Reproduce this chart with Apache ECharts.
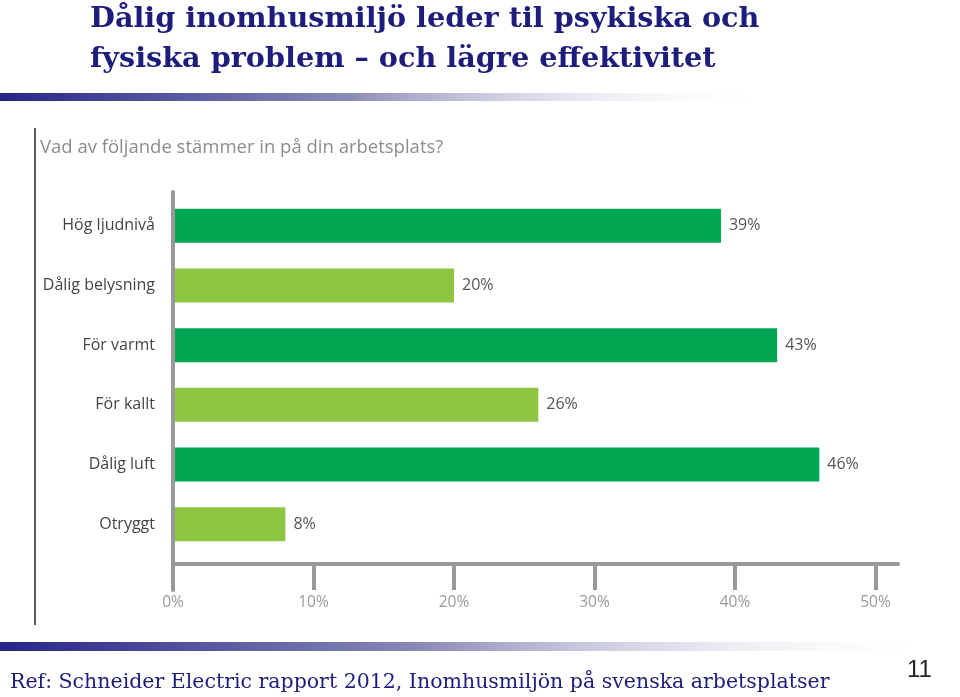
<!DOCTYPE html>
<html>
<head>
<meta charset="utf-8">
<script src="https://cdn.jsdelivr.net/npm/echarts@6/dist/echarts.min.js"></script>
<style>
  html, body { margin: 0; padding: 0; background: #fff; }
  #chart { width: 960px; height: 697px; }
</style>
</head>
<body>
<div id="chart"></div>
<script>
// data
const categories = ['Hög ljudnivå', 'Dålig belysning', 'För varmt', 'För kallt', 'Dålig luft', 'Otryggt']
const values = [39, 20, 43, 26, 46, 8]
const tickValues = [0, 10, 20, 30, 40, 50]

const titleText = 'Dålig inomhusmiljö leder til psykiska och\nfysiska problem – och lägre effektivitet'
const questionText = 'Vad av följande stämmer in på din arbetsplats?'
const refText = 'Ref: Schneider Electric rapport 2012, Inomhusmiljön på svenska arbetsplatser'
const pageNo = '11'

const navy = '#1d1d7b'
const sans = '"Open Sans", Lato, sans-serif'
const serif = '"DejaVu Serif", "Liberation Serif", serif'

const chart = echarts.init(document.getElementById('chart'))

// fading rule under title / above footer
function fadeBar(y, w, h) {
  return {
    type: 'rect',
    left: 0,
    top: y,
    shape: { width: w, height: h },
    style: {
      fill: new echarts.graphic.LinearGradient(0, 0, 1, 0, [
        { offset: 0, color: '#25258a' },
        { offset: 0.45, color: '#8a8ab8' },
        { offset: 1, color: 'rgba(255,255,255,0)' }
      ])
    },
    silent: true
  }
}

chart.setOption({
  animation: false,
  backgroundColor: '#fff',
  title: [
    {
      text: titleText,
      left: 90,
      top: 0,
      padding: 0,
      textStyle: {
        fontFamily: serif,
        fontWeight: 'bold',
        fontSize: 28.7,
        lineHeight: 40,
        color: navy
      }
    },
    {
      text: questionText,
      left: 40,
      top: 138,
      padding: 0,
      textStyle: {
        fontFamily: sans,
        fontWeight: 'normal',
        fontSize: 18.5,
        color: '#8c8c8c'
      }
    },
    {
      text: refText,
      left: 10,
      top: 672,
      padding: 0,
      textStyle: {
        fontFamily: serif,
        fontWeight: 'normal',
        fontSize: 20.5,
        color: navy
      }
    },
    {
      text: pageNo,
      left: 907,
      top: 658,
      padding: 0,
      textStyle: {
        fontFamily: '"Liberation Sans Narrow", "Liberation Sans", sans-serif',
        fontWeight: 'normal',
        fontSize: 24,
        color: '#222'
      }
    }
  ],
  grid: {
    left: 173,
    right: 62,
    top: 196,
    bottom: 143
  },
  xAxis: {
    type: 'value',
    min: 0,
    max: 51.6,
    offset: 10,
    splitLine: { show: false },
    axisLine: {
      show: true,
      lineStyle: { color: '#999', width: 4 }
    },
    axisTick: {
      show: true,
      customValues: tickValues,
      length: 26,
      lineStyle: { color: '#999', width: 4 }
    },
    axisLabel: {
      customValues: tickValues,
      formatter: '{value}%',
      margin: 31,
      fontFamily: sans,
      fontSize: 15.5,
      color: '#999'
    }
  },
  yAxis: {
    type: 'category',
    data: categories,
    inverse: true,
    axisLine: { show: false },
    axisTick: { show: false },
    axisLabel: {
      margin: 18,
      fontFamily: sans,
      fontSize: 16,
      color: '#444'
    }
  },
  series: [
    {
      type: 'bar',
      data: values,
      barWidth: 34,
      itemStyle: {
        color: function(p) {
          return p.dataIndex % 2 === 0 ? '#00a651' : '#8dc640'
        }
      },
      label: {
        show: true,
        position: 'right',
        distance: 8,
        formatter: '{c}%',
        fontFamily: sans,
        fontSize: 16,
        color: '#555'
      }
    }
  ],
  graphic: [
    fadeBar(93, 770, 8),
    fadeBar(642, 940, 9),
    {
      // left frame line
      type: 'line',
      shape: { x1: 35, y1: 128, x2: 35, y2: 625 },
      style: { stroke: '#5a5a5a', lineWidth: 2 },
      silent: true
    },
    {
      // vertical category axis line, running through the value axis
      type: 'line',
      z: 10,
      shape: { x1: 173, y1: 192, x2: 173, y2: 590 },
      style: { stroke: '#999', lineWidth: 4, lineCap: 'round' },
      silent: true
    }
  ]
})
</script>
</body>
</html>
